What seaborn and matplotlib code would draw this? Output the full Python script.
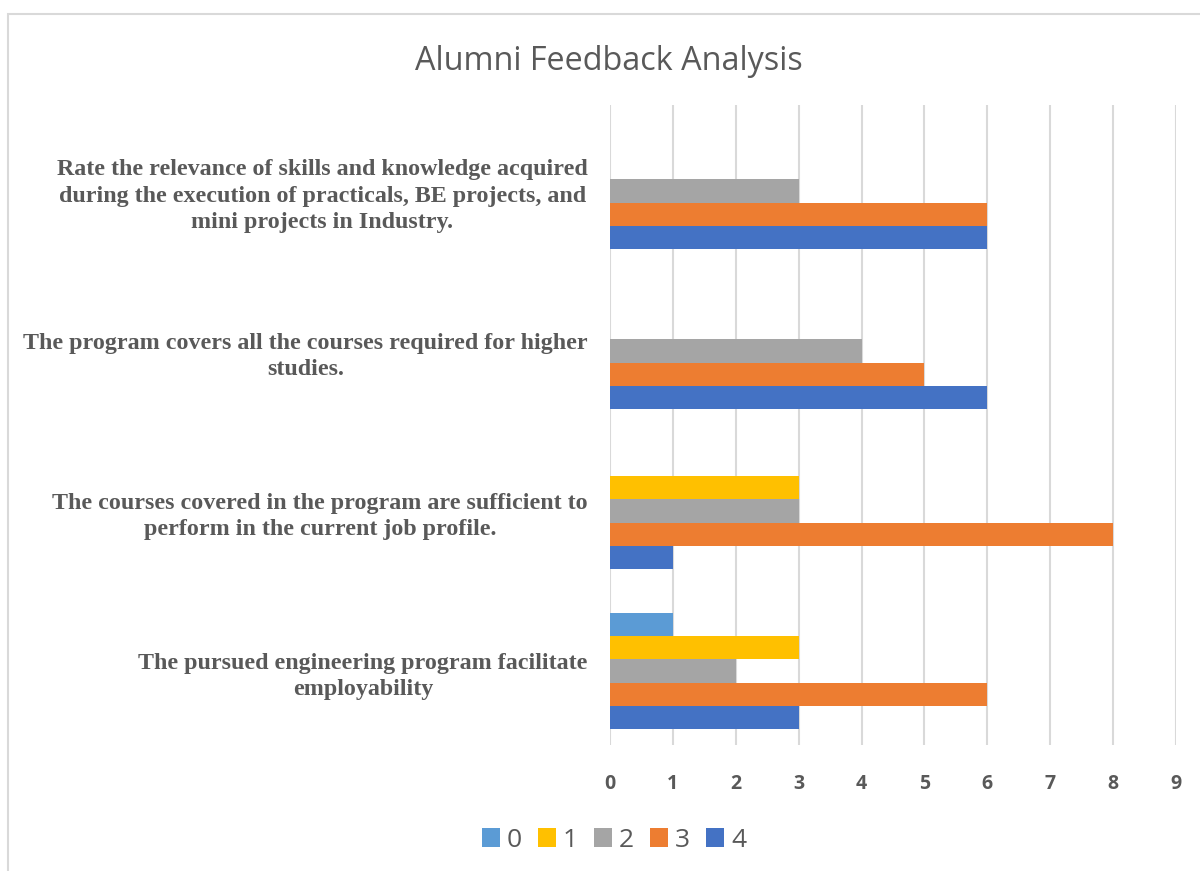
import matplotlib
matplotlib.use("Agg")
import matplotlib.pyplot as plt
import seaborn as sns
import pandas as pd
from matplotlib.patches import Patch, Rectangle

# ---- data (categories listed top to bottom) ----
questions = [
    "Rate the relevance of skills and knowledge acquired\nduring the execution of practicals, BE projects, and\nmini projects in Industry.",
    "The program covers all the courses required for higher\nstudies.",
    "The courses covered in the program are sufficient to\nperform in the current job profile.",
    "The pursued engineering program facilitate\nemployability",
]
ratings = ["0", "1", "2", "3", "4"]
rating_0 = [0, 0, 0, 1]
rating_1 = [0, 0, 3, 3]
rating_2 = [3, 4, 3, 2]
rating_3 = [6, 5, 8, 6]
rating_4 = [6, 6, 1, 3]
colors = ["#5B9BD5", "#FFC000", "#A5A5A5", "#ED7D31", "#4472C4"]
x_ticks = [0, 1, 2, 3, 4, 5, 6, 7, 8, 9]
title = "Alumni Feedback Analysis"

series = [rating_0, rating_1, rating_2, rating_3, rating_4]
rows = []
for r, vals in zip(ratings, series):
    for q, v in zip(questions, vals):
        rows.append({"question": q, "rating": r, "count": v})
df = pd.DataFrame(rows)

sns.set_style("white")
plt.rcParams["font.family"] = ["DejaVu Sans"]

fig = plt.figure(figsize=(12, 8.71), dpi=100)
ax = fig.add_axes([610 / 1200, 1 - 745 / 871, (1176 - 610) / 1200, (745 - 105) / 871])

sns.barplot(data=df, y="question", x="count", hue="rating", order=questions,
            hue_order=ratings, palette=colors, orient="h", width=0.73, gap=0,
            saturation=1, linewidth=0, errorbar=None, legend=False, ax=ax)

ax.set_xlim(0, 9)
ax.set_ylim(3.4625, -0.5375)
ax.set_xticks(x_ticks)
ax.set_xticklabels([str(t) for t in x_ticks])
ax.xaxis.grid(True, color="#D9D9D9", linewidth=1.5)
ax.yaxis.grid(False)
ax.set_axisbelow(True)
for s in ax.spines.values():
    s.set_visible(False)
ax.set_xlabel("")
ax.set_ylabel("")
ax.tick_params(axis="both", length=0)
ax.tick_params(axis="x", pad=21)
ax.tick_params(axis="y", pad=16)
for t in ax.get_xticklabels():
    t.set_fontweight("bold")
    t.set_fontsize(14)
    t.set_color("#595959")
    t.set_family("Open Sans")
for t in ax.get_yticklabels():
    t.set_family("Liberation Serif")
    t.set_fontweight("bold")
    t.set_fontsize(17.3)
    t.set_color("#595959")
    t.set_multialignment("center")
    t.set_linespacing(1.32)

fig.text(609 / 1200, 1 - 61 / 871, title, ha="center", va="center",
         fontsize=23.3, color="#595959", family="Open Sans")

handles = [Patch(facecolor=c, edgecolor="none") for c in colors]
fig.legend(handles, ratings, loc="center", bbox_to_anchor=(614 / 1200, 1 - 840 / 871),
           ncol=5, frameon=False, handlelength=0.7, handleheight=0.7,
           handletextpad=0.25, columnspacing=0.6,
           prop={"family": "Open Sans", "size": 19}, labelcolor="#595959")

fig.patches.append(Rectangle((8 / 1200, -0.1), 1.2, 1 - 14 / 871 + 0.1,
                             transform=fig.transFigure, fill=False,
                             edgecolor="#D9D9D9", linewidth=1.5))

fig.savefig("out.png", dpi=100)
